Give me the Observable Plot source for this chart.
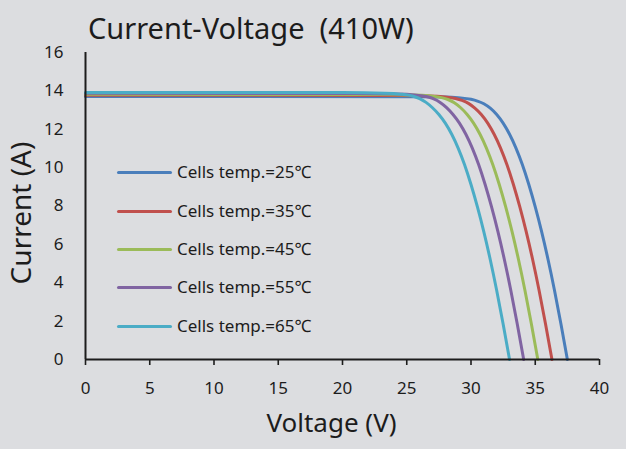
<!DOCTYPE html>
<html>
<head>
<meta charset="utf-8">
<script src="https://cdn.jsdelivr.net/npm/d3@7"></script>
<script src="https://cdn.jsdelivr.net/npm/@observablehq/plot@0.6"></script>
<style>
  html, body { margin: 0; padding: 0; background: #dcdde0; }
  body { width: 626px; height: 449px; overflow: hidden; position: relative; font-family: "Noto Sans", sans-serif; color: #1c1c1c; }
  #title { position: absolute; left: 88px; top: 9px; font-size: 29px; line-height: 38px; white-space: pre; }
  #chart { position: absolute; left: 0; top: 40px; }
  #legend { position: absolute; left: 0; top: 0; }
  .row { position: absolute; left: 117px; height: 20px; }
  .sw { position: absolute; left: 0; top: 8px; width: 55px; height: 3px; border-radius: 1.5px; }
  .lab { position: absolute; left: 60px; top: -3px; font-size: 17px; line-height: 24px; white-space: nowrap; }
</style>
</head>
<body>
<div id="title">Current-Voltage  (410W)</div>
<div id="chart"></div>
<div id="legend"></div>
<script>
// ---- data ----
const temps = [25, 35, 45, 55, 65];
const legendLabels = temps.map(t => "Cells temp.=" + t + "℃");
const xTicks = [0, 5, 10, 15, 20, 25, 30, 35, 40];
const yTicks = [0, 2, 4, 6, 8, 10, 12, 14, 16];

const v25 = [0, 26.0, 28.0, 29.0, 30.0, 30.5, 31.0, 31.5, 32.0, 32.5, 33.0, 33.5, 34.0, 34.5, 35.0, 35.5, 36.0, 36.5, 37.0, 37.5];
const i25 = [13.71, 13.70, 13.68, 13.64, 13.56, 13.47, 13.33, 13.10, 12.77, 12.32, 11.74, 11.02, 10.15, 9.12, 7.95, 6.65, 5.2, 3.6, 1.85, 0];

const v35 = [0, 24.5, 26.8, 27.8, 28.8, 29.3, 29.8, 30.3, 30.8, 31.3, 31.8, 32.3, 32.8, 33.3, 33.8, 34.3, 34.8, 35.3, 35.8, 36.3];
const i35 = [13.77, 13.76, 13.73, 13.69, 13.60, 13.50, 13.35, 13.10, 12.77, 12.32, 11.74, 11.02, 10.15, 9.12, 7.95, 6.65, 5.2, 3.6, 1.85, 0];

const v45 = [0, 22.0, 25.5, 26.7, 27.7, 28.2, 28.7, 29.2, 29.7, 30.2, 30.7, 31.2, 31.7, 32.2, 32.7, 33.2, 33.7, 34.2, 34.7, 35.2];
const i45 = [13.82, 13.81, 13.79, 13.75, 13.65, 13.55, 13.38, 13.12, 12.77, 12.32, 11.74, 11.02, 10.15, 9.12, 7.95, 6.65, 5.2, 3.6, 1.85, 0];

const v55 = [0, 21.0, 24.3, 25.6, 26.6, 27.1, 27.6, 28.1, 28.6, 29.1, 29.6, 30.1, 30.6, 31.1, 31.6, 32.1, 32.6, 33.1, 33.6, 34.1];
const i55 = [13.87, 13.86, 13.84, 13.79, 13.69, 13.58, 13.40, 13.13, 12.77, 12.32, 11.74, 11.02, 10.15, 9.12, 7.95, 6.65, 5.2, 3.6, 1.85, 0];

const v65 = [0, 20.0, 23.3, 24.5, 25.5, 26.0, 26.5, 27.0, 27.5, 28.0, 28.5, 29.0, 29.5, 30.0, 30.5, 31.0, 31.5, 32.0, 32.5, 33.0];
const i65 = [13.92, 13.91, 13.88, 13.83, 13.72, 13.60, 13.40, 13.12, 12.77, 12.32, 11.74, 11.02, 10.15, 9.12, 7.95, 6.65, 5.2, 3.6, 1.85, 0];

// ---- styles ----
const colors = ["#4a7ebb", "#c0504d", "#9bbb59", "#8064a2", "#4bacc6"];

const series = [[v25, i25], [v35, i35], [v45, i45], [v55, i55], [v65, i65]];
const rows = series.flatMap(([vs, is], k) =>
  vs.map((v, j) => ({ series: legendLabels[k], V: v, I: is[j] })));

const plot = Plot.plot({
  width: 626,
  height: 409,
  marginLeft: 85,
  marginRight: 27,
  marginTop: 12,
  marginBottom: 90,
  style: { background: "transparent", fontFamily: "Noto Sans, sans-serif", fontSize: "17px", color: "#1c1c1c" },
  x: { domain: [0, 40], ticks: xTicks, label: null },
  y: { domain: [0, 16], ticks: yTicks, label: null },
  color: { domain: legendLabels, range: colors },
  marks: [
    Plot.axisX({ ticks: xTicks, tickSize: 6, tickPadding: 16, strokeWidth: 1.6, stroke: "#1c1c1c", label: null }),
    Plot.axisY({ ticks: yTicks, tickSize: 0, tickPadding: 22, label: null }),
    Plot.line(rows, { x: "V", y: "I", z: "series", stroke: "series", strokeWidth: 3, curve: "monotone-x" }),
    Plot.ruleY([0], { stroke: "#1c1c1c", strokeWidth: 2 }),
    Plot.ruleX([0], { stroke: "#1c1c1c", strokeWidth: 2 }),
    Plot.text(["Current (A)"], { frameAnchor: "left", textAnchor: "middle", rotate: -90, dx: -63, dy: 7, fontSize: 28, lineAnchor: "middle" }),
    Plot.text(["Voltage (V)"], { frameAnchor: "bottom", textAnchor: "middle", dx: -11, dy: 64, fontSize: 26, lineAnchor: "middle" })
  ]
});
document.getElementById("chart").appendChild(plot);

// legend overlay
const leg = document.getElementById("legend");
const rowTops = [163, 201.5, 239.5, 278, 316.5];
legendLabels.forEach((lab, k) => {
  const r = document.createElement("div");
  r.className = "row";
  r.style.top = rowTops[k] + "px";
  r.innerHTML = `<div class="sw" style="background:${colors[k]}"></div><div class="lab">${lab}</div>`;
  leg.appendChild(r);
});
</script>
</body>
</html>
